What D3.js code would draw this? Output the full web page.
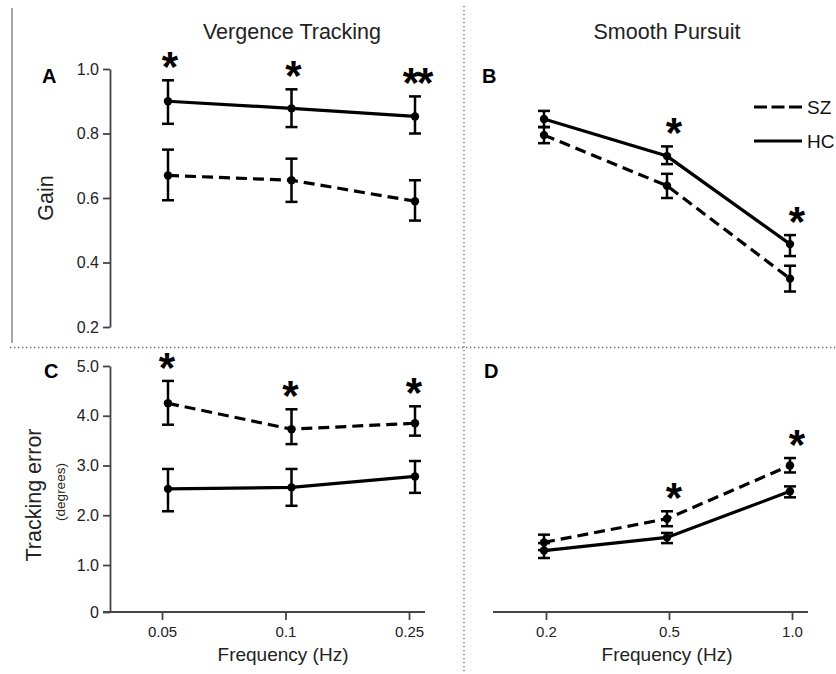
<!DOCTYPE html>
<html>
<head>
<meta charset="utf-8">
<script src="https://cdn.jsdelivr.net/npm/d3@7.9.0/dist/d3.min.js"></script>
<style>
  body { margin: 0; background: #fff; }
  svg text { font-family: "Liberation Sans", Arial, sans-serif; }
</style>
</head>
<body>
<svg id="chart" width="836" height="674"></svg>
<script>
// frequencies (Hz)
const vergFreq = ['0.05', '0.1', '0.25'];
const pursFreq = ['0.2', '0.5', '1.0'];

// Gain, vergence tracking
const gainVergSZ = [0.67, 0.655, 0.59];
const gainVergSZLo = [0.593, 0.588, 0.53];
const gainVergSZHi = [0.75, 0.722, 0.655];
const gainVergHC = [0.90, 0.878, 0.853];
const gainVergHCLo = [0.83, 0.82, 0.80];
const gainVergHCHi = [0.965, 0.937, 0.915];

// Gain, smooth pursuit
const gainPursSZ = [0.795, 0.638, 0.35];
const gainPursSZLo = [0.77, 0.60, 0.31];
const gainPursSZHi = [0.82, 0.675, 0.39];
const gainPursHC = [0.845, 0.73, 0.457];
const gainPursHCLo = [0.82, 0.705, 0.42];
const gainPursHCHi = [0.87, 0.76, 0.485];

// Tracking error (degrees), vergence
const errVergSZ = [4.25, 3.73, 3.85];
const errVergSZLo = [3.82, 3.43, 3.6];
const errVergSZHi = [4.7, 4.13, 4.19];
const errVergHC = [2.53, 2.56, 2.78];
const errVergHCLo = [2.08, 2.19, 2.45];
const errVergHCHi = [2.93, 2.93, 3.09];

// Tracking error (degrees), pursuit
const errPursSZ = [1.455, 1.93, 3.0];
const errPursSZLo = [1.30, 1.78, 2.86];
const errPursSZHi = [1.61, 2.08, 3.15];
const errPursHC = [1.29, 1.555, 2.48];
const errPursHCLo = [1.14, 1.44, 2.36];
const errPursHCHi = [1.44, 1.645, 2.58];

// significance stars per panel (index -> label)
const starsA = ['*', '*', '**'];
const starsB = ['', '*', '*'];
const starsC = ['*', '*', '*'];
const starsD = ['', '*', '*'];

const gainTicks = [0.2, 0.4, 0.6, 0.8, 1.0];
const errTicks = [0, 1, 2, 3, 4, 5];

const svg = d3.select('#chart');
const axisColor = '#444';

// scales
const xVerg = d3.scalePoint().domain(vergFreq).range([162, 409]);
const xPurs = d3.scalePoint().domain(pursFreq).range([546, 792]);
const yGain = d3.scaleLinear().domain([0.2, 1.0]).range([327, 69]);
const yErr = d3.scaleLinear().domain([0, 1, 5]).range([612, 565, 366]);

// separators
svg.append('line').attr('x1', 12).attr('x2', 12).attr('y1', 8).attr('y2', 343)
  .attr('stroke', '#888').attr('stroke-width', 1.5);
svg.append('line').attr('x1', 10).attr('x2', 836).attr('y1', 347.5).attr('y2', 347.5)
  .attr('stroke', '#666').attr('stroke-width', 1.3).attr('stroke-dasharray', '1.3,2.7');
svg.append('line').attr('x1', 464).attr('x2', 464).attr('y1', 6).attr('y2', 674)
  .attr('stroke', '#666').attr('stroke-width', 1.3).attr('stroke-dasharray', '1.3,2.7');

// titles
svg.append('text').attr('x', 292).attr('y', 39).attr('text-anchor', 'middle')
  .attr('font-size', 21.5).attr('fill', '#222').text('Vergence Tracking');
svg.append('text').attr('x', 667).attr('y', 39).attr('text-anchor', 'middle')
  .attr('font-size', 21.5).attr('fill', '#222').text('Smooth Pursuit');

// panel letters
[['A', 42, 83], ['B', 482, 83], ['C', 44, 378], ['D', 484, 378]].forEach(([t, x, y]) => {
  svg.append('text').attr('x', x).attr('y', y)
    .attr('font-family', '"DejaVu Sans", Verdana, sans-serif')
    .attr('font-weight', 'bold').attr('font-size', 20).attr('fill', '#000').text(t);
});

// y axis labels
svg.append('text').attr('transform', 'translate(53,198) rotate(-90)')
  .attr('text-anchor', 'middle').attr('font-size', 21.5).attr('fill', '#222').text('Gain');
svg.append('text').attr('transform', 'translate(41,495) rotate(-90)')
  .attr('text-anchor', 'middle').attr('font-size', 21.5).attr('fill', '#222').text('Tracking error');
svg.append('text').attr('transform', 'translate(65,492) rotate(-90)')
  .attr('text-anchor', 'middle').attr('font-size', 13.5).attr('fill', '#222').text('(degrees)');

function styleAxis(g, size) {
  g.selectAll('path, line').attr('stroke', axisColor).attr('stroke-width', 1.8);
  g.selectAll('text').attr('font-size', size).attr('fill', '#222')
    .attr('font-family', '"Liberation Sans", Arial, sans-serif');
}

// y axis A
svg.append('g').attr('transform', 'translate(110,0)')
  .call(d3.axisLeft(yGain).tickValues(gainTicks).tickFormat(d3.format('.1f')).tickSize(7).tickSizeOuter(0).tickPadding(4))
  .call(styleAxis, 16);

// y axis C
svg.append('g').attr('transform', 'translate(110,0)')
  .call(d3.axisLeft(yErr).tickValues(errTicks).tickFormat(d => d === 0 ? '0' : d3.format('.1f')(d)).tickSize(7).tickSizeOuter(0).tickPadding(4))
  .call(styleAxis, 16);

// x axes C and D
function xAxis(scale, x0, x1) {
  const g = svg.append('g').attr('transform', 'translate(0,612)');
  g.call(d3.axisBottom(scale).tickSize(8).tickPadding(6)).call(styleAxis, 15);
  g.select('.domain').remove();
  g.append('line').attr('x1', x0).attr('x2', x1).attr('y1', 0).attr('y2', 0)
    .attr('stroke', axisColor).attr('stroke-width', 1.8);
}
xAxis(xVerg, 103, 425);
xAxis(xPurs, 493, 808);

svg.append('text').attr('x', 283).attr('y', 661).attr('text-anchor', 'middle')
  .attr('font-size', 19).attr('fill', '#222').text('Frequency (Hz)');
svg.append('text').attr('x', 667).attr('y', 661).attr('text-anchor', 'middle')
  .attr('font-size', 19).attr('fill', '#222').text('Frequency (Hz)');

// series drawing
function series(x, y, cats, vals, lo, hi, dashed, dx) {
  const pts = cats.map((c, i) => ({ x: x(c) + dx, v: vals[i], lo: lo[i], hi: hi[i] }));
  const g = svg.append('g');
  g.append('path')
    .attr('d', d3.line().x(d => d.x).y(d => y(d.v))(pts))
    .attr('fill', 'none').attr('stroke', '#000').attr('stroke-width', 3.2)
    .attr('stroke-dasharray', dashed ? '11,6' : null);
  pts.forEach(d => {
    g.append('line').attr('x1', d.x).attr('x2', d.x).attr('y1', y(d.lo)).attr('y2', y(d.hi))
      .attr('stroke', '#000').attr('stroke-width', 2.5);
    [d.lo, d.hi].forEach(v => {
      g.append('line').attr('x1', d.x - 6).attr('x2', d.x + 6).attr('y1', y(v)).attr('y2', y(v))
        .attr('stroke', '#000').attr('stroke-width', 2.5);
    });
    g.append('circle').attr('cx', d.x).attr('cy', y(d.v)).attr('r', 4.2).attr('fill', '#000');
  });
}

function stars(x, y, cats, labels, hiA, hiB, dx) {
  cats.forEach((c, i) => {
    if (!labels[i]) return;
    const top = Math.max(hiA[i], hiB[i]);
    svg.append('text').attr('x', x(c) + dx).attr('y', y(top) - 21 + 22)
      .attr('text-anchor', 'middle').attr('font-weight', 'bold').attr('font-size', 42)
      .attr('letter-spacing', labels[i].length > 1 ? -2 : 0)
      .attr('fill', '#000').text(labels[i]);
  });
}

series(xVerg, yGain, vergFreq, gainVergSZ, gainVergSZLo, gainVergSZHi, true, 6);
series(xVerg, yGain, vergFreq, gainVergHC, gainVergHCLo, gainVergHCHi, false, 6);
series(xPurs, yGain, pursFreq, gainPursSZ, gainPursSZLo, gainPursSZHi, true, -2);
series(xPurs, yGain, pursFreq, gainPursHC, gainPursHCLo, gainPursHCHi, false, -2);
series(xVerg, yErr, vergFreq, errVergSZ, errVergSZLo, errVergSZHi, true, 6);
series(xVerg, yErr, vergFreq, errVergHC, errVergHCLo, errVergHCHi, false, 6);
series(xPurs, yErr, pursFreq, errPursSZ, errPursSZLo, errPursSZHi, true, -2);
series(xPurs, yErr, pursFreq, errPursHC, errPursHCLo, errPursHCHi, false, -2);

stars(xVerg, yGain, vergFreq, starsA, gainVergSZHi, gainVergHCHi, 8);
stars(xPurs, yGain, pursFreq, starsB, gainPursSZHi, gainPursHCHi, 5);
stars(xVerg, yErr, vergFreq, starsC, errVergSZHi, errVergHCHi, 5);
stars(xPurs, yErr, pursFreq, starsD, errPursSZHi, errPursHCHi, 5);

// legend
const legend = [['SZ', true, 107], ['HC', false, 141]];
legend.forEach(([name, dashed, y]) => {
  svg.append('line').attr('x1', 754).attr('x2', 802).attr('y1', y).attr('y2', y)
    .attr('stroke', '#000').attr('stroke-width', 3.2)
    .attr('stroke-dasharray', dashed ? '13,4.5' : null);
  svg.append('text').attr('x', 807).attr('y', y + 7).attr('font-size', 19)
    .attr('fill', '#111').text(name);
});
</script>
</body>
</html>
